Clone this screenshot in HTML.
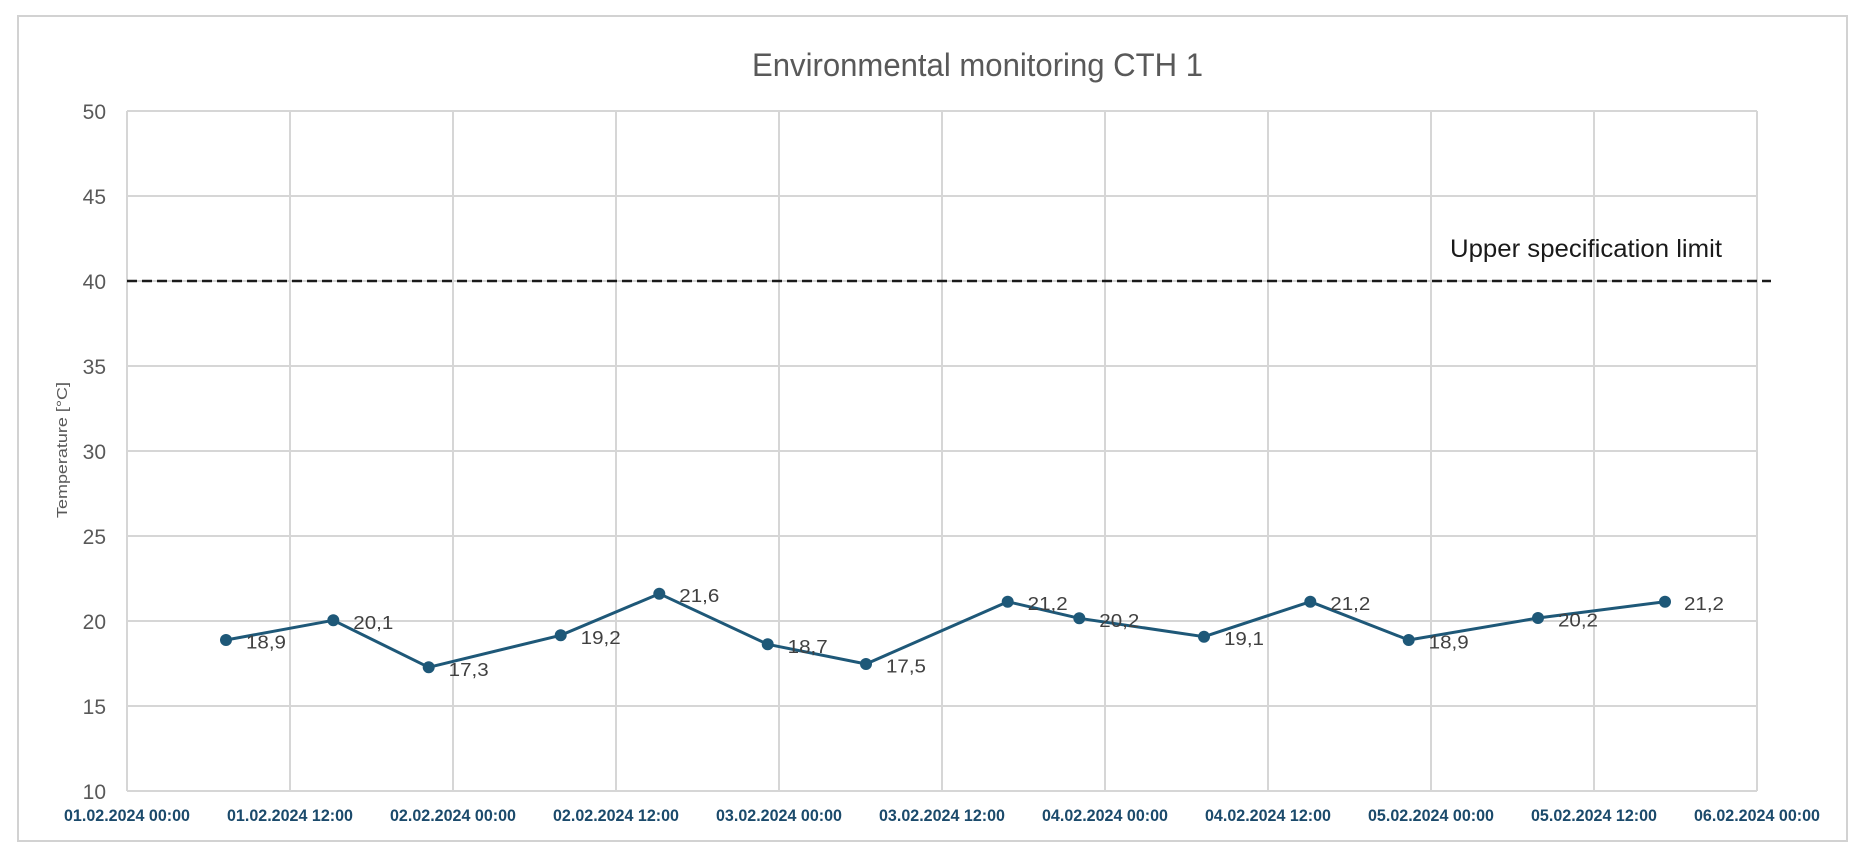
<!DOCTYPE html>
<html>
<head>
<meta charset="utf-8">
<style>
  html, body { margin: 0; padding: 0; background: #ffffff; }
  body { width: 1862px; height: 854px; overflow: hidden; }
  svg { display: block; }
  text { font-family: "Liberation Sans", "DejaVu Sans", sans-serif; }
</style>
</head>
<body>
<svg width="1862" height="854" viewBox="0 0 1862 854" xmlns="http://www.w3.org/2000/svg">
  <rect x="0" y="0" width="1862" height="854" fill="#ffffff"/>
  <!-- outer chart border -->
  <rect x="18" y="16" width="1829" height="825" fill="none" stroke="#d2d2d2" stroke-width="2"/>

  <!-- title -->
  <text x="752" y="76" font-size="32" fill="#595959" textLength="451" lengthAdjust="spacingAndGlyphs">Environmental monitoring CTH 1</text>

  <!-- horizontal gridlines -->
  <g stroke="#d6d6d6" stroke-width="2">
    <line x1="127" y1="111" x2="1757" y2="111"/>
    <line x1="127" y1="196" x2="1757" y2="196"/>
    <line x1="127" y1="281" x2="1757" y2="281"/>
    <line x1="127" y1="366" x2="1757" y2="366"/>
    <line x1="127" y1="451" x2="1757" y2="451"/>
    <line x1="127" y1="536" x2="1757" y2="536"/>
    <line x1="127" y1="621" x2="1757" y2="621"/>
    <line x1="127" y1="706" x2="1757" y2="706"/>
    <line x1="127" y1="791" x2="1757" y2="791"/>
  </g>
  <!-- vertical gridlines -->
  <g stroke="#d6d6d6" stroke-width="2">
    <line x1="127" y1="111" x2="127" y2="791"/>
    <line x1="290" y1="111" x2="290" y2="791"/>
    <line x1="453" y1="111" x2="453" y2="791"/>
    <line x1="616" y1="111" x2="616" y2="791"/>
    <line x1="779" y1="111" x2="779" y2="791"/>
    <line x1="942" y1="111" x2="942" y2="791"/>
    <line x1="1105" y1="111" x2="1105" y2="791"/>
    <line x1="1268" y1="111" x2="1268" y2="791"/>
    <line x1="1431" y1="111" x2="1431" y2="791"/>
    <line x1="1594" y1="111" x2="1594" y2="791"/>
    <line x1="1757" y1="111" x2="1757" y2="791"/>
  </g>

  <!-- y tick labels -->
  <g font-size="21" fill="#595959" text-anchor="end">
    <text x="106" y="119">50</text>
    <text x="106" y="204">45</text>
    <text x="106" y="289">40</text>
    <text x="106" y="374">35</text>
    <text x="106" y="459">30</text>
    <text x="106" y="544">25</text>
    <text x="106" y="629">20</text>
    <text x="106" y="714">15</text>
    <text x="106" y="799">10</text>
  </g>

  <!-- y axis title -->
  <text transform="translate(67,450) rotate(-90)" x="0" y="0" font-size="15" fill="#595959" text-anchor="middle" textLength="136" lengthAdjust="spacingAndGlyphs">Temperature [°C]</text>

  <!-- x tick labels -->
  <g font-size="17" font-weight="bold" fill="#1b4a6b" text-anchor="middle">
    <text x="127" y="821" textLength="126" lengthAdjust="spacingAndGlyphs">01.02.2024 00:00</text>
    <text x="290" y="821" textLength="126" lengthAdjust="spacingAndGlyphs">01.02.2024 12:00</text>
    <text x="453" y="821" textLength="126" lengthAdjust="spacingAndGlyphs">02.02.2024 00:00</text>
    <text x="616" y="821" textLength="126" lengthAdjust="spacingAndGlyphs">02.02.2024 12:00</text>
    <text x="779" y="821" textLength="126" lengthAdjust="spacingAndGlyphs">03.02.2024 00:00</text>
    <text x="942" y="821" textLength="126" lengthAdjust="spacingAndGlyphs">03.02.2024 12:00</text>
    <text x="1105" y="821" textLength="126" lengthAdjust="spacingAndGlyphs">04.02.2024 00:00</text>
    <text x="1268" y="821" textLength="126" lengthAdjust="spacingAndGlyphs">04.02.2024 12:00</text>
    <text x="1431" y="821" textLength="126" lengthAdjust="spacingAndGlyphs">05.02.2024 00:00</text>
    <text x="1594" y="821" textLength="126" lengthAdjust="spacingAndGlyphs">05.02.2024 12:00</text>
    <text x="1757" y="821" textLength="126" lengthAdjust="spacingAndGlyphs">06.02.2024 00:00</text>
  </g>

  <!-- upper specification limit -->
  <line x1="127" y1="281" x2="1771" y2="281" stroke="#1a1a1a" stroke-width="2.5" stroke-dasharray="10 5"/>
  <text x="1450" y="257" font-size="25" fill="#1a1a1a" textLength="272" lengthAdjust="spacingAndGlyphs">Upper specification limit</text>

  <!-- data series -->
  <polyline fill="none" stroke="#1e5878" stroke-width="3" stroke-linejoin="round"
    points="226,640 333.3,620.3 428.7,667.3 560.7,635.3 659.3,593.7 767.7,644.3 866,664 1007.7,601.7 1079.3,618.3 1204,636.7 1310.3,601.7 1408.7,640 1538,618 1665,601.7"/>
  <g fill="#1e5878">
    <circle cx="226" cy="640" r="6"/>
    <circle cx="333.3" cy="620.3" r="6"/>
    <circle cx="428.7" cy="667.3" r="6"/>
    <circle cx="560.7" cy="635.3" r="6"/>
    <circle cx="659.3" cy="593.7" r="6"/>
    <circle cx="767.7" cy="644.3" r="6"/>
    <circle cx="866" cy="664" r="6"/>
    <circle cx="1007.7" cy="601.7" r="6"/>
    <circle cx="1079.3" cy="618.3" r="6"/>
    <circle cx="1204" cy="636.7" r="6"/>
    <circle cx="1310.3" cy="601.7" r="6"/>
    <circle cx="1408.7" cy="640" r="6"/>
    <circle cx="1538" cy="618" r="6"/>
    <circle cx="1665" cy="601.7" r="6"/>
  </g>

  <!-- data labels -->
  <g font-size="18" fill="#404040">
    <text x="246" y="648.5" textLength="40" lengthAdjust="spacingAndGlyphs">18,9</text>
    <text x="353.3" y="628.8" textLength="40" lengthAdjust="spacingAndGlyphs">20,1</text>
    <text x="448.7" y="675.8" textLength="40" lengthAdjust="spacingAndGlyphs">17,3</text>
    <text x="580.7" y="643.8" textLength="40" lengthAdjust="spacingAndGlyphs">19,2</text>
    <text x="679.3" y="602.2" textLength="40" lengthAdjust="spacingAndGlyphs">21,6</text>
    <text x="787.7" y="652.8" textLength="40" lengthAdjust="spacingAndGlyphs">18,7</text>
    <text x="886" y="672.5" textLength="40" lengthAdjust="spacingAndGlyphs">17,5</text>
    <text x="1027.7" y="610.2" textLength="40" lengthAdjust="spacingAndGlyphs">21,2</text>
    <text x="1099.3" y="626.8" textLength="40" lengthAdjust="spacingAndGlyphs">20,2</text>
    <text x="1224" y="645.2" textLength="40" lengthAdjust="spacingAndGlyphs">19,1</text>
    <text x="1330.3" y="610.2" textLength="40" lengthAdjust="spacingAndGlyphs">21,2</text>
    <text x="1428.7" y="648.5" textLength="40" lengthAdjust="spacingAndGlyphs">18,9</text>
    <text x="1558" y="626.5" textLength="40" lengthAdjust="spacingAndGlyphs">20,2</text>
    <text x="1684" y="610.2" textLength="40" lengthAdjust="spacingAndGlyphs">21,2</text>
  </g>
</svg>
</body>
</html>
